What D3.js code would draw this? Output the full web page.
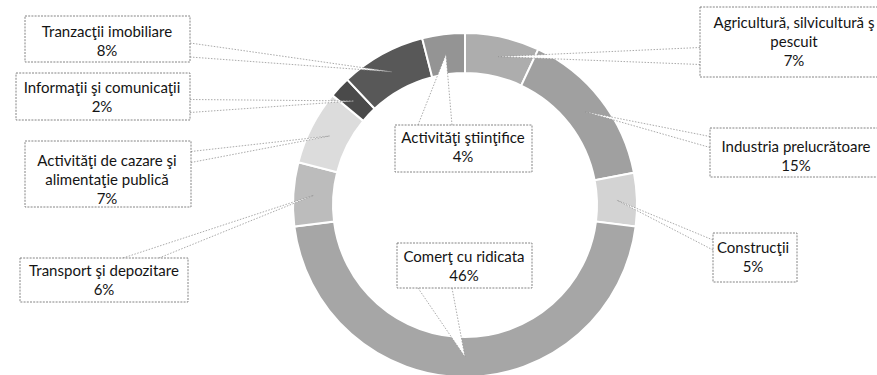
<!DOCTYPE html>
<html>
<head>
<meta charset="utf-8">
<script src="https://cdn.jsdelivr.net/npm/d3@7/dist/d3.min.js"></script>
<style>
  html, body { margin: 0; padding: 0; background: #ffffff; }
  svg { display: block; }
  text { font-family: Lato, "Open Sans", sans-serif; fill: #141414; }
</style>
</head>
<body>
<svg id="chart" width="877" height="375"></svg>
<script>
// Sectors in drawing order, clockwise from 12 o'clock
const sectors = [
  "Agricultură, silvicultură şi pescuit",
  "Industria prelucrătoare",
  "Construcţii",
  "Comerţ cu ridicata",
  "Transport şi depozitare",
  "Activităţi de cazare şi alimentaţie publică",
  "Informaţii şi comunicaţii",
  "Tranzacţii imobiliare",
  "Activităţi ştiinţifice"
];

// Share of each sector, percent
const shares = [7, 15, 5, 46, 6, 7, 2, 8, 4];

// Wrapped label text for each sector (value line is added from shares)
const labelLines = [
  ["Agricultură, silvicultură ş", "pescuit"],
  ["Industria prelucrătoare"],
  ["Construcţii"],
  ["Comerţ cu ridicata"],
  ["Transport şi depozitare"],
  ["Activităţi de cazare şi", "alimentaţie publică"],
  ["Informaţii şi comunicaţii"],
  ["Tranzacţii imobiliare"],
  ["Activităţi ştiinţifice"]
];

// Grey fills of the ring segments
const fills = ["#adadad", "#a0a0a0", "#d3d3d3", "#a6a6a6", "#bcbcbc", "#dcdcdc", "#4a4a4a", "#585858", "#949494"];

// ---- layout ----
const W = 877, H = 375;
const cx = 465, cy = 205;
const outerR = 172, innerR = 132;

// Callout boxes: box rect, text centre x, first baseline,
// and the wedge base on one side of the box (side, centre along edge, half width)
const boxes = [
  { x: 700, y: 7,   w: 190, h: 70, tx: 794, ty: 28,  side: "left",   bc: 56,  bh: 8.5 },
  { x: 710, y: 128, w: 180, h: 49, tx: 796, ty: 152, side: "left",   bc: 142, bh: 5.5 },
  { x: 713, y: 233, w: 84,  h: 49, tx: 753, ty: 253, side: "left",   bc: 245, bh: 5 },
  { x: 397, y: 243, w: 135, h: 45, tx: 464, ty: 262, side: "bottom", bc: 435, bh: 17 },
  { x: 20,  y: 258, w: 168, h: 44, tx: 104, ty: 276, side: "top",    bc: 141, bh: 18 },
  { x: 25,  y: 141, w: 166, h: 66, tx: 107, ty: 166, side: "right",  bc: 157, bh: 5.5 },
  { x: 16,  y: 73,  w: 174, h: 47, tx: 102, ty: 93,  side: "right",  bc: 106, bh: 6.5 },
  { x: 25,  y: 16,  w: 165, h: 46, tx: 107, ty: 37,  side: "right",  bc: 50,  bh: 7 },
  { x: 395, y: 125, w: 137, h: 47, tx: 463, ty: 143, side: "top",    bc: 435, bh: 17 }
];
const lineStep = 19;

const svg = d3.select("#chart");
const g = svg.append("g").attr("transform", `translate(${cx},${cy})`);

const pie = d3.pie().sort(null).value(d => d)(shares);
const arc = d3.arc().innerRadius(innerR).outerRadius(outerR);

// Ring segments
g.selectAll("path.seg")
  .data(pie)
  .join("path")
  .attr("class", "seg")
  .attr("d", arc)
  .attr("fill", (d, i) => fills[i])
  .attr("stroke", "#ffffff")
  .attr("stroke-width", 2);

// Callout wedges: thin white triangles from each box to its segment centroid
function wedgeBase(b) {
  if (b.side === "left")   return [[b.x, b.bc - b.bh], [b.x, b.bc + b.bh]];
  if (b.side === "right")  return [[b.x + b.w, b.bc - b.bh], [b.x + b.w, b.bc + b.bh]];
  if (b.side === "top")    return [[b.bc - b.bh, b.y], [b.bc + b.bh, b.y]];
  return [[b.bc - b.bh, b.y + b.h], [b.bc + b.bh, b.y + b.h]];
}

const wedges = svg.append("g");
pie.forEach((d, i) => {
  const c = arc.centroid(d);
  const tip = [cx + c[0], cy + c[1]];
  const [p1, p2] = wedgeBase(boxes[i]);
  wedges.append("path")
    .attr("d", d3.line()([p1, tip, p2]) + "Z")
    .attr("fill", "#ffffff");
  [p1, p2].forEach(p => {
    wedges.append("line")
      .attr("x1", p[0]).attr("y1", p[1])
      .attr("x2", tip[0]).attr("y2", tip[1])
      .attr("stroke", "#949494")
      .attr("stroke-width", 0.8)
      .attr("stroke-dasharray", "1.5 1.5");
  });
});

// Label boxes with text
const pct = d3.format(".0%");
const labels = svg.append("g");
boxes.forEach((b, i) => {
  labels.append("rect")
    .attr("x", b.x).attr("y", b.y)
    .attr("width", b.w).attr("height", b.h)
    .attr("fill", "#ffffff")
    .attr("stroke", "#767676")
    .attr("stroke-width", 0.9)
    .attr("stroke-dasharray", "2 1.2");
  const lines = labelLines[i].concat([pct(shares[i] / 100)]);
  const t = labels.append("text")
    .attr("text-anchor", "middle")
    .attr("font-size", 15);
  lines.forEach((s, k) => {
    t.append("tspan")
      .attr("x", b.tx)
      .attr("y", b.ty + k * lineStep)
      .text(s);
  });
});
</script>
</body>
</html>
